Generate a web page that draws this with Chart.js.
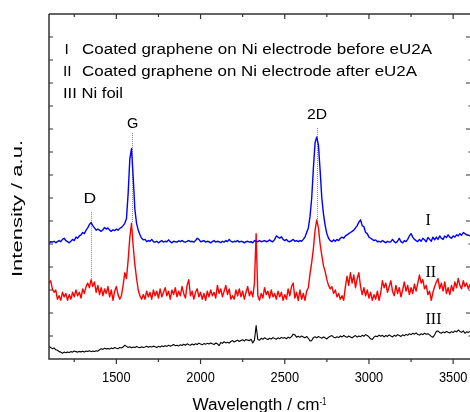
<!DOCTYPE html>
<html>
<head>
<meta charset="utf-8">
<script src="https://cdn.jsdelivr.net/npm/chart.js@4/dist/chart.umd.min.js"></script>
<style>
html,body{margin:0;padding:0;background:#fff;}
#wrap{width:470px;height:412px;}
</style>
</head>
<body>
<div id="wrap"><canvas id="c" width="470" height="412"></canvas></div>
<script>
// ---------------- data ----------------
const wavenumbers = [
1100,1110,1120,1130,1140,1150,1160,1170,1180,1190,
1200,1210,1220,1230,1240,1250,1260,1270,1280,1290,
1300,1310,1320,1330,1340,1350,1360,1370,1380,1390,
1400,1410,1420,1430,1440,1450,1460,1470,1480,1490,
1500,1510,1520,1530,1540,1550,1560,1570,1580,1590,
1600,1610,1620,1630,1640,1650,1660,1670,1680,1690,
1700,1710,1720,1730,1740,1750,1760,1770,1780,1790,
1800,1810,1820,1830,1840,1850,1860,1870,1880,1890,
1900,1910,1920,1930,1940,1950,1960,1970,1980,1990,
2000,2010,2020,2030,2040,2050,2060,2070,2080,2090,
2100,2110,2120,2130,2140,2150,2160,2170,2180,2190,
2200,2210,2220,2230,2240,2250,2260,2270,2280,2290,
2300,2310,2320,2330,2340,2350,2360,2370,2380,2390,
2400,2410,2420,2430,2440,2450,2460,2470,2480,2490,
2500,2510,2520,2530,2540,2550,2560,2570,2580,2590,
2600,2610,2620,2630,2640,2650,2660,2670,2680,2690,
2700,2710,2720,2730,2740,2750,2760,2770,2780,2790,
2800,2810,2820,2830,2840,2850,2860,2870,2880,2890,
2900,2910,2920,2930,2940,2950,2960,2970,2980,2990,
3000,3010,3020,3030,3040,3050,3060,3070,3080,3090,
3100,3110,3120,3130,3140,3150,3160,3170,3180,3190,
3200,3210,3220,3230,3240,3250,3260,3270,3280,3290,
3300,3310,3320,3330,3340,3350,3360,3370,3380,3390,
3400,3410,3420,3430,3440,3450,3460,3470,3480,3490,
3500,3510,3520,3530,3540,3550,3560,3570,3580,3590,
3600];

// Series I: coated graphene on Ni electrode before eU2A (blue)
const seriesI = [
5.05,5.1,5.08,5.12,5.05,5.1,5.15,5.1,5.2,5.25,
5.15,5.1,5.05,5.12,5.2,5.15,5.3,5.25,5.35,5.4,
5.5,5.45,5.6,5.7,5.85,5.93,5.8,5.7,5.6,5.65,
5.6,5.55,5.62,5.72,5.65,5.7,5.6,5.55,5.62,5.58,
5.65,5.6,5.68,5.72,5.8,5.9,6.1,7.2,8.7,9.15,
7.9,6.5,5.9,5.6,5.4,5.25,5.18,5.2,5.1,5.15,
5.12,5.2,5.1,5.08,5.12,5.05,5.1,5.15,5.08,5.12,
5.1,5.18,5.1,5.05,5.12,5.1,5.08,5.14,5.1,5.15,
5.1,5.08,5.12,5.15,5.1,5.12,5.08,5.15,5.25,5.2,
5.1,5.12,5.15,5.08,5.12,5.1,5.05,5.1,5.15,5.08,
5.12,5.1,5.06,5.12,5.08,5.15,5.1,5.2,5.12,5.08,
5.12,5.1,5.15,5.08,5.12,5.1,5.05,5.1,5.12,5.08,
5.1,5.05,5.15,5.12,5.1,5.15,5.1,5.12,5.15,5.1,
5.12,5.18,5.12,5.1,5.2,5.35,5.3,5.25,5.32,5.2,
5.15,5.2,5.12,5.1,5.15,5.2,5.12,5.15,5.1,5.15,
5.12,5.2,5.3,5.5,5.7,6.2,7.0,8.3,9.4,9.65,
9.3,8.2,7.0,6.3,5.8,5.45,5.25,5.15,5.1,5.18,
5.12,5.2,5.15,5.25,5.3,5.25,5.35,5.4,5.45,5.5,
5.55,5.6,5.7,5.8,5.95,6.05,5.8,5.75,5.5,5.45,
5.3,5.25,5.2,5.15,5.18,5.1,5.12,5.08,5.15,5.1,
5.05,5.12,5.08,5.1,5.2,5.1,5.05,5.12,5.25,5.1,
5.05,5.15,5.1,5.2,5.35,5.45,5.3,5.2,5.15,5.1,
5.2,5.12,5.25,5.18,5.1,5.28,5.2,5.12,5.3,5.18,
5.3,5.2,5.35,5.25,5.2,5.35,5.28,5.4,5.3,5.25,
5.35,5.3,5.4,5.35,5.45,5.38,5.5,5.45,5.4,5.38,
5.35];

// Series II: coated graphene on Ni electrode after eU2A (red)
const seriesII = [
3.3,3.4,3.05,2.9,3.0,2.6,2.75,2.55,2.9,2.7,
2.85,2.55,2.8,2.6,2.9,2.7,3.0,2.75,2.9,2.65,
3.05,2.85,3.15,3.3,3.1,3.45,3.15,3.35,2.9,3.2,
2.8,3.1,2.75,3.05,2.85,3.15,2.7,3.0,2.55,2.95,
3.15,2.8,2.6,2.75,3.2,3.75,3.5,4.3,5.3,5.9,
4.9,4.1,3.5,3.0,2.75,2.6,2.8,2.6,2.95,2.7,
2.9,2.6,3.0,2.75,2.95,2.65,3.05,2.7,2.9,3.1,
2.75,2.95,2.6,3.0,2.8,3.1,2.7,2.95,2.75,3.15,
2.85,2.65,3.2,3.45,2.75,2.95,2.6,2.9,3.05,2.7,
2.9,2.6,2.85,2.55,2.95,2.7,3.0,2.75,2.9,2.65,
3.2,2.85,3.05,2.7,2.95,3.2,2.8,3.05,2.6,2.75,
2.6,3.0,2.75,3.05,2.7,2.95,2.6,2.9,3.15,2.75,
2.95,2.7,3.3,5.45,2.75,2.55,2.85,2.65,3.1,2.8,
2.95,2.65,3.0,2.7,2.85,2.6,2.95,2.7,2.9,2.55,
2.8,2.6,3.05,2.75,3.15,3.3,2.65,2.9,2.55,3.0,
2.6,2.85,2.55,2.95,3.1,3.7,4.2,4.8,5.6,6.05,
5.7,5.0,4.5,4.05,3.8,3.45,3.2,3.05,3.15,2.85,
3.0,2.7,2.85,2.6,2.75,2.55,3.15,3.6,3.2,3.75,
3.3,3.65,3.1,3.5,3.75,3.15,2.8,3.1,2.75,3.0,
2.65,2.9,2.55,2.8,2.6,2.95,2.55,2.9,3.4,3.1,
3.3,2.9,3.15,3.4,2.95,2.75,3.2,2.85,3.1,2.7,
3.0,3.35,2.95,3.2,2.8,3.1,2.85,3.25,2.95,3.3,
3.65,3.3,3.45,3.05,3.2,2.8,2.95,2.55,2.9,3.15,
3.35,3.5,3.05,3.3,2.95,3.35,2.85,3.1,2.8,3.2,
2.95,3.35,3.1,3.5,3.2,3.05,3.4,3.15,3.3,3.05,
3.25];

// Series III: Ni foil (black)
const seriesIII = [
0.55,0.5,0.45,0.48,0.4,0.38,0.32,0.3,0.25,0.3,
0.27,0.3,0.28,0.32,0.3,0.35,0.32,0.3,0.33,0.31,
0.34,0.3,0.35,0.33,0.36,0.32,0.35,0.33,0.36,0.34,
0.4,0.45,0.42,0.47,0.44,0.46,0.43,0.48,0.45,0.5,
0.47,0.45,0.5,0.48,0.52,0.6,0.55,0.5,0.53,0.49,
0.52,0.5,0.54,0.51,0.49,0.53,0.5,0.52,0.55,0.51,
0.54,0.52,0.56,0.53,0.5,0.55,0.52,0.57,0.54,0.58,
0.55,0.6,0.56,0.59,0.63,0.58,0.6,0.57,0.62,0.59,
0.64,0.6,0.66,0.62,0.6,0.65,0.61,0.66,0.63,0.69,
0.65,0.62,0.67,0.64,0.68,0.65,0.7,0.66,0.63,0.69,
0.66,0.58,0.72,0.68,0.75,0.7,0.73,0.69,0.76,0.8,
0.74,0.78,0.82,0.76,0.8,0.84,0.78,0.85,0.82,0.8,
0.86,0.7,0.82,1.45,0.85,0.82,0.9,0.86,0.92,0.88,
0.85,0.9,0.87,0.93,0.89,0.86,0.92,0.88,0.94,0.9,
0.93,0.88,0.95,0.91,0.97,1.08,1.05,0.95,0.99,0.94,
1.0,0.96,0.92,0.98,0.9,0.78,0.8,0.93,0.97,0.92,
0.98,0.94,0.9,0.96,0.92,0.87,0.95,0.99,1.02,0.95,
0.92,0.97,0.93,1.0,0.96,1.02,0.98,0.94,1.0,0.96,
0.92,0.98,1.02,0.95,1.0,0.97,1.03,0.99,1.06,1.02,
0.96,0.88,0.85,0.95,1.0,0.97,1.04,0.99,1.03,0.96,
1.02,0.98,1.05,1.0,0.96,1.03,0.99,1.06,1.02,0.98,
1.05,1.01,1.07,1.03,1.1,1.06,1.12,1.08,1.13,1.07,
1.04,1.1,1.06,1.12,1.08,1.1,1.05,0.98,0.95,1.05,
1.2,1.22,1.15,1.12,1.18,1.14,1.2,1.16,1.13,1.19,
1.15,1.22,1.18,1.26,1.2,1.16,1.22,1.12,1.18,1.15,
1.2];

// axis ticks
const xMajorTicks = [1500, 2000, 2500, 3000, 3500];
const xMinorTicks = [1250, 1750, 2250, 2750, 3250];
const yTicks = [1,2,3,4,5,6,7,8,9,10,11,12,13,14];

// series labels (roman numerals) and legend lines
const seriesNames = ['I', 'II', 'III'];
const seriesLabelWave = [3336, 3336, 3336];
const seriesLabelY = [5.83, 3.58, 1.52];
const legendNumerals = ['I', 'II', 'III'];
const legendTexts = ['Coated graphene on Ni electrode before eU2A',
                     'Coated graphene on Ni electrode after eU2A',
                     'Ni foil'];

// Raman band annotations
const peakNames = ['D', 'G', '2D'];
const peakWave = [1350, 1590, 2690];
const peakLineTop = [6.4, 9.83, 10.04];
const peakLineBottom = [3.45, 5.9, 6.05];
const peakLabelWave = [1343, 1597, 2692];
const peakLabelY = [6.78, 10.05, 10.42];

// ---------------- chart ----------------
const SANS = "'Liberation Sans', Arial, sans-serif";
const SERIF = "'Liberation Serif', 'Times New Roman', serif";

function toXY(vals){ return wavenumbers.map((w,i)=>({x:w, y:vals[i]})); }

function fitText(ctx, txt, x, y, size, family, width, align){
  ctx.font = size + 'px ' + family;
  const w = ctx.measureText(txt).width;
  const s = width ? width / w : 1;
  ctx.save();
  ctx.translate(x, y);
  ctx.scale(s, 1);
  ctx.textAlign = align || 'left';
  ctx.textBaseline = 'alphabetic';
  ctx.fillText(txt, 0, 0);
  ctx.restore();
}

const decor = {
  id: 'decor',
  beforeDatasetsDraw(chart){
    const ctx = chart.ctx, xs = chart.scales.x, ys = chart.scales.y;
    ctx.save();
    ctx.strokeStyle = '#8a8a8a';
    ctx.lineWidth = 1;
    ctx.setLineDash([1, 1]);
    peakWave.forEach((w,i)=>{
      const px = Math.round(xs.getPixelForValue(w)) + 0.5;
      ctx.beginPath();
      ctx.moveTo(px, ys.getPixelForValue(peakLineTop[i]));
      ctx.lineTo(px, ys.getPixelForValue(peakLineBottom[i]));
      ctx.stroke();
    });
    ctx.restore();
  },
  afterDraw(chart){
    const ctx = chart.ctx, xs = chart.scales.x, ys = chart.scales.y;
    const a = chart.chartArea;
    const right = xs.getPixelForValue(3600);
    ctx.save();
    // frame (right spine sits at the canvas edge)
    ctx.strokeStyle = '#333';
    ctx.lineWidth = 1.5;
    ctx.setLineDash([]);
    ctx.beginPath();
    ctx.moveTo(a.left, a.top); ctx.lineTo(a.left, a.bottom); ctx.lineTo(right + 1, a.bottom);
    ctx.moveTo(a.left, a.top); ctx.lineTo(right + 1, a.top);
    ctx.stroke();
    // x ticks: bottom outward, top inward
    ctx.lineWidth = 1.2;
    ctx.beginPath();
    xMajorTicks.forEach(v=>{
      const px = xs.getPixelForValue(v);
      ctx.moveTo(px, a.bottom); ctx.lineTo(px, a.bottom + 5);
      ctx.moveTo(px, a.top); ctx.lineTo(px, a.top + 5);
    });
    xMinorTicks.forEach(v=>{
      const px = xs.getPixelForValue(v);
      ctx.moveTo(px, a.bottom); ctx.lineTo(px, a.bottom + 3);
      ctx.moveTo(px, a.top); ctx.lineTo(px, a.top + 3);
    });
    // y ticks: inward on both sides, even values longer on the right
    yTicks.forEach(v=>{
      const py = ys.getPixelForValue(v);
      const len = (v % 2 === 0) ? 5 : 2.5;
      ctx.moveTo(a.left, py); ctx.lineTo(a.left + 4, py);
      ctx.moveTo(right + 1, py); ctx.lineTo(right + 1 - len, py);
    });
    ctx.stroke();

    ctx.fillStyle = '#000';
    // x tick labels
    xMajorTicks.forEach(v=>{
      fitText(ctx, String(v), xs.getPixelForValue(v), a.bottom + 22.7, 14, SANS, 28.5, 'center');
    });
    // x title with superscript
    const cx = (a.left + right) / 2;
    fitText(ctx, 'Wavelength / cm', cx - 67, a.bottom + 51, 16, SANS, 127, 'left');
    fitText(ctx, '-1', cx + 60, a.bottom + 45.5, 10, SANS, 7, 'left');
    // y title rotated
    ctx.save();
    ctx.translate(a.left - 26.7, (a.top + a.bottom) / 2 + 22);
    ctx.rotate(-Math.PI / 2);
    fitText(ctx, 'Intensity / a.u.', 0, 0, 14, SANS, 137, 'center');
    ctx.restore();

    // legend text block
    const lx = a.left + 14, tx = a.left + 33;
    const baselines = [a.top + 40, a.top + 62, a.top + 84];
    fitText(ctx, legendNumerals[0], lx + 1.5, baselines[0], 15.5, SANS, null, 'left');
    fitText(ctx, legendTexts[0], tx, baselines[0], 15.5, SANS, 350, 'left');
    fitText(ctx, legendNumerals[1], lx, baselines[1], 15.5, SANS, null, 'left');
    fitText(ctx, legendTexts[1], tx, baselines[1], 15.5, SANS, 335, 'left');
    fitText(ctx, legendNumerals[2] + ' ' + legendTexts[2], lx, baselines[2], 15.5, SANS, 60, 'left');

    // peak labels
    const pw = [12.7, 11.3, 20];
    peakNames.forEach((n,i)=>{
      fitText(ctx, n, xs.getPixelForValue(peakLabelWave[i]), ys.getPixelForValue(peakLabelY[i]), 15.5, SANS, pw[i], 'center');
    });

    // series numerals (serif)
    seriesNames.forEach((n,i)=>{
      fitText(ctx, n, xs.getPixelForValue(seriesLabelWave[i]), ys.getPixelForValue(seriesLabelY[i]), 16, SERIF, null, 'left');
    });
    ctx.restore();
  }
};

new Chart(document.getElementById('c'), {
  type: 'line',
  data: {
    datasets: [
      { label: 'I', data: toXY(seriesI), borderColor: '#0000ff', borderWidth: 1.4 },
      { label: 'II', data: toXY(seriesII), borderColor: '#ff0000', borderWidth: 1.4 },
      { label: 'III', data: toXY(seriesIII), borderColor: '#000000', borderWidth: 1.1 }
    ]
  },
  options: {
    responsive: false,
    animation: false,
    devicePixelRatio: 1,
    layout: { padding: { left: 49, top: 14, right: 0, bottom: 53 } },
    elements: { point: { radius: 0 }, line: { tension: 0, borderJoinStyle: 'round', fill: false } },
    plugins: { legend: { display: false }, tooltip: { enabled: false } },
    scales: {
      x: { type: 'linear', min: 1100, max: 3600, display: false },
      y: { type: 'linear', min: 0, max: 15, display: false }
    }
  },
  plugins: [decor]
});
</script>
</body>
</html>
